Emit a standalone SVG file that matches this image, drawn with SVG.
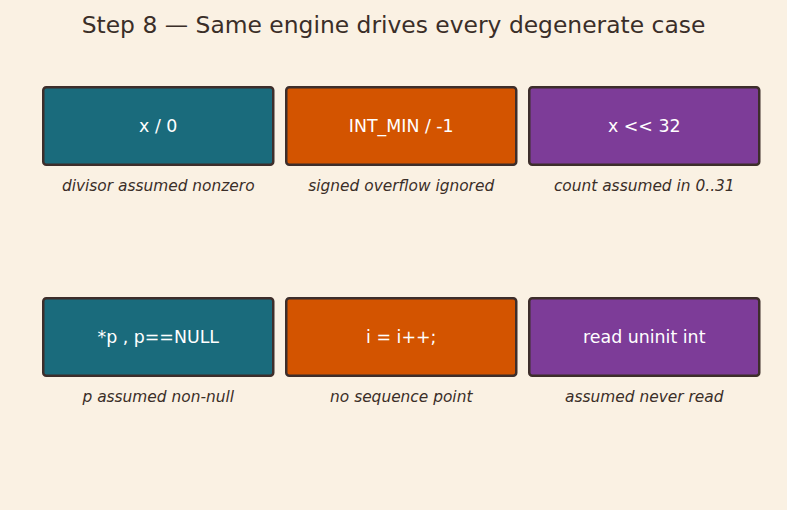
<svg xmlns="http://www.w3.org/2000/svg" width="787" height="510" viewBox="0 0 787 510">
<style>
.bx{stroke:#3d2e2b;stroke-width:2.5}
.t1{fill:#1a6b7c}.t2{fill:#d35400}.t3{fill:#7d3c98}
.lb{font-family:"DejaVu Sans",sans-serif;font-size:17.4px;fill:#ffffff;text-anchor:middle}
.cp{font-family:"DejaVu Sans",sans-serif;font-size:15.4px;font-style:italic;fill:#3a2e28;text-anchor:middle}
.ti{font-family:"DejaVu Sans",sans-serif;font-size:23.4px;fill:#3a2e28;text-anchor:middle}
</style>
<rect width="787" height="510" fill="#faf1e3"/>
<text class="ti" x="393.5" y="33">Step 8 — Same engine drives every degenerate case</text>
<g id="n1"><rect class="bx t1" x="43.25" y="87.25" width="230" height="77.5" rx="3"/><text class="lb" x="158.25" y="132">x / 0</text><text class="cp" x="158.25" y="191">divisor assumed nonzero</text></g>
<g id="n2"><rect class="bx t2" x="286.25" y="87.25" width="230" height="77.5" rx="3"/><text class="lb" x="401.25" y="132">INT_MIN / -1</text><text class="cp" x="401.25" y="191">signed overflow ignored</text></g>
<g id="n3"><rect class="bx t3" x="529.25" y="87.25" width="230" height="77.5" rx="3"/><text class="lb" x="644.25" y="132">x &lt;&lt; 32</text><text class="cp" x="644.25" y="191">count assumed in 0..31</text></g>
<g id="n4"><rect class="bx t1" x="43.25" y="298.25" width="230" height="77.5" rx="3"/><text class="lb" x="158.25" y="343">*p , p==NULL</text><text class="cp" x="158.25" y="402">p assumed non-null</text></g>
<g id="n5"><rect class="bx t2" x="286.25" y="298.25" width="230" height="77.5" rx="3"/><text class="lb" x="401.25" y="343">i = i++;</text><text class="cp" x="401.25" y="402">no sequence point</text></g>
<g id="n6"><rect class="bx t3" x="529.25" y="298.25" width="230" height="77.5" rx="3"/><text class="lb" x="644.25" y="343">read uninit int</text><text class="cp" x="644.25" y="402">assumed never read</text></g>
<g id="connectors"></g>
</svg>
